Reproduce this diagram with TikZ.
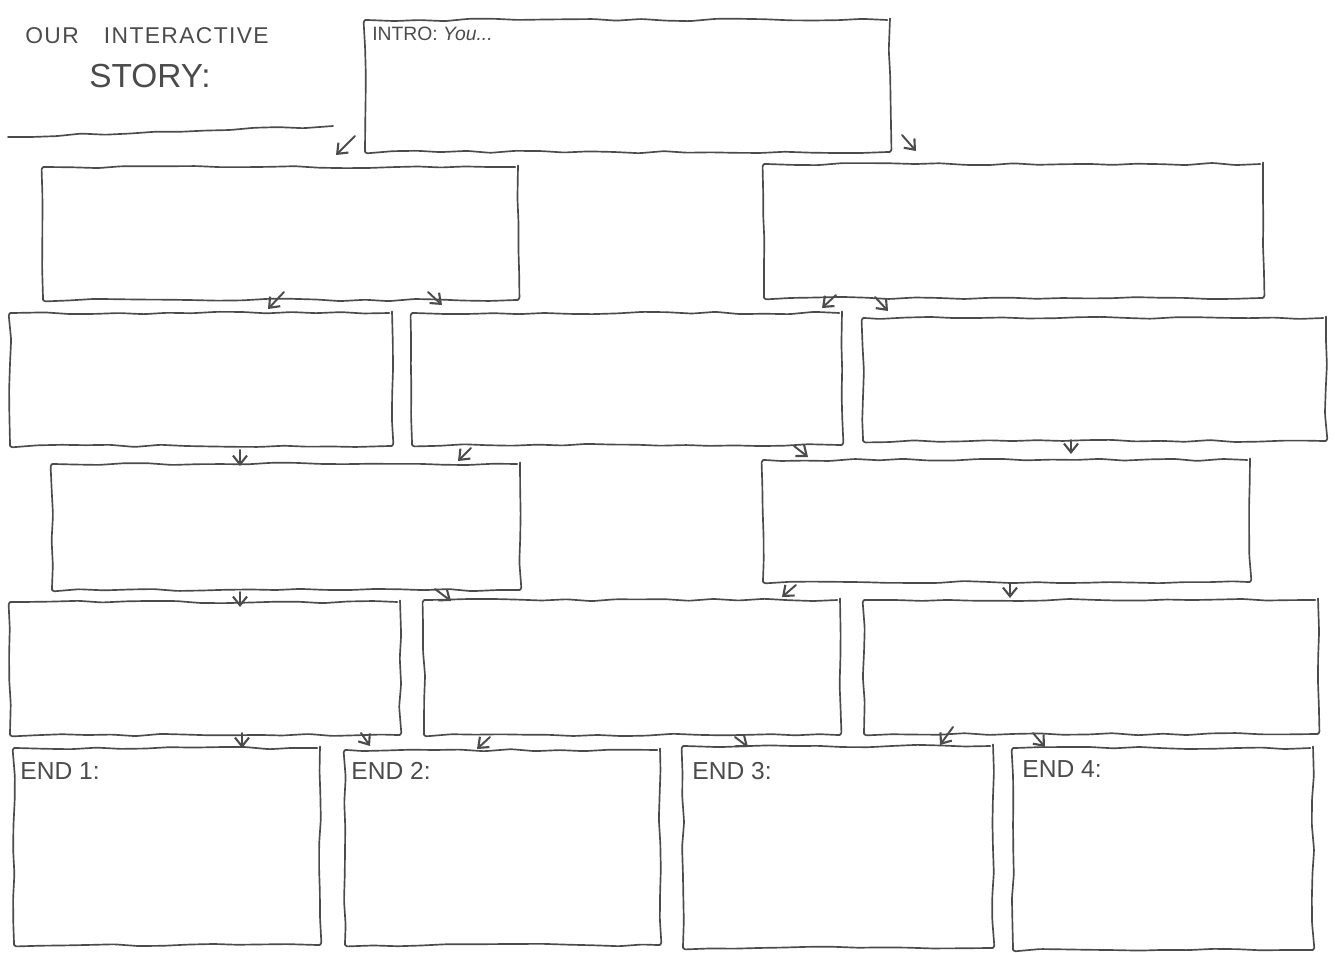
\documentclass[tikz,border=0pt]{standalone}
\usepackage{fontspec}
\setmainfont{Liberation Sans}
\usetikzlibrary{fit,arrows.meta,decorations.pathmorphing}
\definecolor{pen}{RGB}{75,75,75}
\tikzset{
  pencil/.style={draw=pen, line width=0.95pt, line cap=round, line join=round,
    decorate, decoration={random steps, segment length=14pt, amplitude=0.7pt}, rounded corners=1.5pt},
  storybox/.style={pencil, fit={#1}, inner sep=0pt},
  tiparrow/.style={draw=pen, line width=1.1pt, line cap=round, -{Straight Barb[length=5pt,width=8pt,line width=1.2pt]}},
  hand/.style={text=pen, inner sep=0pt, anchor=north west, font=\fontsize{14}{16}\selectfont},
}
\begin{document}
\begin{tikzpicture}[x=0.02cm, y=-0.02cm]
\useasboundingbox (0,0) rectangle (1335,953);
% title
\node[hand, font=\fontsize{13}{15}\selectfont\addfontfeature{LetterSpace=6}] (t1) at (25,27) {OUR\hspace{1.1em}INTERACTIVE};
\node[hand, font=\fontsize{19}{22}\selectfont] (t2) at (89,64) {STORY:};
\coordinate (ul1) at (8,137);
\coordinate (ul2) at (333,126);
\draw[pencil] (ul1) -- (ul2);
% intro
\node[storybox={(365,20) (890,152)}] (intro) {};
\node[hand, font=\fontsize{11}{13}\selectfont] (introt) at (372,27) {INTRO: \textit{You...}};
% row 1
\node[storybox={(43,167) (518,300)}] (r1a) {};
\node[storybox={(764,164) (1263,298)}] (r1b) {};
% row 2
\node[storybox={(10,313) (392,446)}] (r2a) {};
\node[storybox={(412,313) (842,445)}] (r2b) {};
\node[storybox={(863,318) (1326,441)}] (r2c) {};
% row 3
\node[storybox={(52,464) (520,590)}] (r3a) {};
\node[storybox={(763,460) (1250,582)}] (r3b) {};
% row 4
\node[storybox={(10,602) (400,735)}] (r4a) {};
\node[storybox={(424,600) (840,735)}] (r4b) {};
\node[storybox={(864,600) (1318,734)}] (r4c) {};
% ends
\node[storybox={(14,748) (320,945)}] (e1) {};
\node[storybox={(345,750) (660,945)}] (e2) {};
\node[storybox={(683,746) (993,948)}] (e3) {};
\node[storybox={(1013,748) (1313,950)}] (e4) {};
\node[hand] (e1t) at (20,762) {END 1:};
\node[hand] (e2t) at (351,762) {END 2:};
\node[hand] (e3t) at (692,762) {END 3:};
\node[hand] (e4t) at (1022,760) {END 4:};
% arrows
\coordinate (a1s) at (355,136); \coordinate (a1e) at (336,155);
\coordinate (a2s) at (902,135); \coordinate (a2e) at (916,151);
\coordinate (a3s) at (284,292); \coordinate (a3e) at (268,309);
\coordinate (a4s) at (428,292); \coordinate (a4e) at (442,305);
\coordinate (a5s) at (836,295); \coordinate (a5e) at (822,308);
\coordinate (a6s) at (875,297); \coordinate (a6e) at (888,311);
\coordinate (a7s) at (240,450); \coordinate (a7e) at (240,466);
\coordinate (a8s) at (471,448); \coordinate (a8e) at (458,461);
\coordinate (a9s) at (794,446); \coordinate (a9e) at (808,457);
\coordinate (a10s) at (1071,440); \coordinate (a10e) at (1071,454);
\coordinate (a11s) at (240,592); \coordinate (a11e) at (240,607);
\coordinate (a12s) at (435,589); \coordinate (a12e) at (451,601);
\coordinate (a13s) at (796,585); \coordinate (a13e) at (782,597);
\coordinate (a14s) at (1010,583); \coordinate (a14e) at (1010,598);
\coordinate (a15s) at (242,733); \coordinate (a15e) at (242,748);
\coordinate (a16s) at (361,733); \coordinate (a16e) at (370,746);
\coordinate (a17s) at (490,737); \coordinate (a17e) at (477,749);
\coordinate (a18s) at (735,737); \coordinate (a18e) at (748,747);
\coordinate (a19s) at (953,727); \coordinate (a19e) at (940,745);
\coordinate (a20s) at (1033,733); \coordinate (a20e) at (1045,747);
\foreach \i in {1,...,20} {\draw[tiparrow] (a\i s) -- (a\i e);}
\end{tikzpicture}
\end{document}
